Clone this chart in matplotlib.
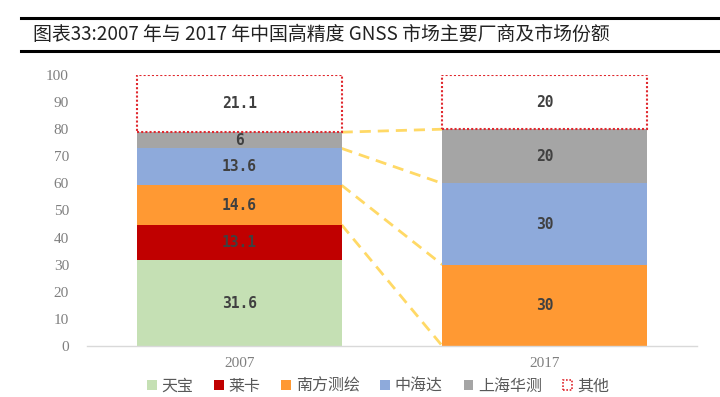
import numpy as np
import matplotlib
matplotlib.use('Agg')
import matplotlib.pyplot as plt
from matplotlib.patches import Patch
from matplotlib.lines import Line2D

plt.rcParams['font.family'] = ['Noto Sans CJK SC', 'DejaVu Sans']

# Daten
jahre = ['2007', '2017']
hersteller = ['天宝', '莱卡', '南方测绘', '中海达', '上海华测', '其他']
anteil_2007 = [31.6, 13.1, 14.6, 13.6, 6, 21.1]
anteil_2017 = [0, 0, 30, 30, 20, 20]
farben = ['#c5e0b4', '#c00000', '#ff9933', '#8eaadb', '#a5a5a5', 'white']
rot_punkt = '#e0282e'

titel = '图表33:2007 年与 2017 年中国高精度 GNSS 市场主要厂商及市场份额'

fig = plt.figure(figsize=(7.2, 3.97), dpi=100)
ax = fig.add_axes([87 / 720, 1 - 346 / 397, 610 / 720, 271 / 397])

x = np.arange(len(jahre))
breite = 0.67
werte = np.array([anteil_2007, anteil_2017])  # Zeilen = Jahre
unten = np.zeros(len(jahre))

for i, name in enumerate(hersteller):
    v = werte[:, i]
    if name == '其他':
        ax.bar(x, v, breite, bottom=unten, color='white', edgecolor=rot_punkt,
               linestyle=(0, (1, 1)), linewidth=1.5, zorder=3)
    else:
        ax.bar(x, v, breite, bottom=unten, color=farben[i], linewidth=0, zorder=2)
    for j in range(len(jahre)):
        if v[j] > 0:
            txt = f'{v[j]:g}'
            ax.text(x[j], unten[j] + v[j] / 2, txt, ha='center', va='center',
                    fontsize=10.5, color='#404040', fontweight='bold',
                    family='DejaVu Sans Mono', zorder=4)
    unten = unten + v

# Verbindungslinien (kumulierte Obergrenzen)
kum_2007 = np.cumsum(anteil_2007)
kum_2017 = np.cumsum(anteil_2017)
for k in range(1, 5):
    ax.plot([x[0] + breite / 2, x[1] - breite / 2], [kum_2007[k], kum_2017[k]],
            color='#ffd966', linestyle=(0, (4, 2.5)), linewidth=2, zorder=1)

ax.set_xlim(-0.5, 1.5)
ax.set_ylim(0, 100)
ax.set_yticks(np.arange(0, 101, 10))
ax.set_xticks(x)
ax.set_xticklabels(jahre)
for lab in ax.get_xticklabels() + ax.get_yticklabels():
    lab.set_family('Liberation Serif')
    lab.set_fontsize(11)
    lab.set_color('#7f7f7f')
ax.tick_params(axis='both', length=0)
ax.tick_params(axis='y', pad=13)
ax.tick_params(axis='x', pad=8)
for s in ['left', 'right', 'top']:
    ax.spines[s].set_visible(False)
ax.spines['bottom'].set_color('#d9d9d9')
ax.spines['bottom'].set_linewidth(1)

# Legende
handles = []
for i, name in enumerate(hersteller):
    if name == '其他':
        handles.append(Patch(facecolor='white', edgecolor=rot_punkt, linestyle=(0, (1, 1)),
                             linewidth=1.2, label=name))
    else:
        handles.append(Patch(facecolor=farben[i], edgecolor='none', label=name))
fig.legend(handles=handles, loc='center', bbox_to_anchor=(378 / 720, 1 - 386 / 397),
           ncol=6, frameon=False, fontsize=11.5, handlelength=0.6, handleheight=0.6,
           handletextpad=0.3, columnspacing=1.3, labelcolor='#595959')

# Titel mit Linien
fig.add_artist(Line2D([21 / 720, 1], [1 - 17.5 / 397] * 2, color='black', linewidth=2.2))
fig.add_artist(Line2D([21 / 720, 1], [1 - 50.5 / 397] * 2, color='black', linewidth=2.2))
fig.text(33 / 720, 1 - 34 / 397, titel, fontsize=13.6, color='#222222', va='center', ha='left')

fig.savefig('out.png', dpi=100)
